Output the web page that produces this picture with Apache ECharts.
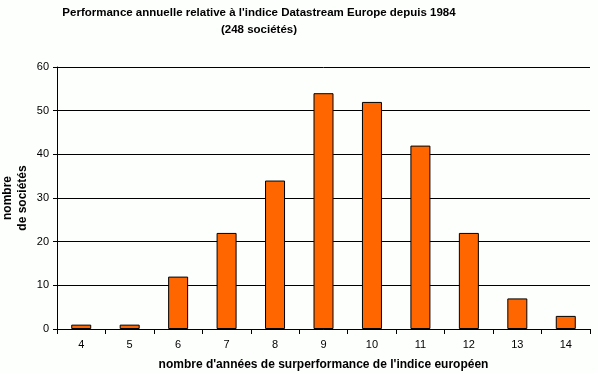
<!DOCTYPE html>
<html><head><meta charset="utf-8">
<script src="https://cdn.jsdelivr.net/npm/echarts@6/dist/echarts.min.js"></script>
<style>html,body{margin:0;padding:0;background:#fdfffd}#c{width:598px;height:373px}</style>
</head><body><div id="c"></div>
<script>
const categories = ['4','5','6','7','8','9','10','11','12','13','14'];
const values = [1,1,12,22,34,54,52,42,22,7,3];
const yTicks = [0,10,20,30,40,50,60];
const chart = echarts.init(document.getElementById('c'));
const F = 'Liberation Sans, Arial, sans-serif';
chart.setOption({
  backgroundColor: '#fdfffd',
  animation: false,
  title: {
    text: "Performance annuelle relative à l'indice Datastream Europe depuis 1984\n(248 sociétés)",
    left: 259, top: 4, padding: 0, textAlign: 'center',
    textStyle: {fontFamily: F, fontSize: 11.5, fontWeight: 'bold', color: '#000', lineHeight: 17}
  },
  grid: {left: 57, right: 8, top: 67, bottom: 44, containLabel: false, outerBoundsMode: 'none'},
  xAxis: {
    type: 'category', data: categories,
    name: "nombre d'années de surperformance de l'indice européen",
    nameLocation: 'middle', nameGap: 30, nameMoveOverlap: false,
    nameTextStyle: {fontFamily: F, fontSize: 12, fontWeight: 'bold', color: '#000'},
    axisLine: {lineStyle: {color: '#000', width: 1}},
    axisTick: {show: true, alignWithLabel: false, length: 5, lineStyle: {color: '#000'}},
    axisLabel: {fontFamily: F, fontSize: 11, color: '#000', margin: 10}
  },
  yAxis: {
    type: 'value', min: yTicks[0], max: yTicks[yTicks.length-1], interval: 10,
    name: 'nombre\nde sociétés', nameLocation: 'middle', nameGap: 27, nameRotate: 90, nameMoveOverlap: false,
    nameTextStyle: {fontFamily: F, fontSize: 12, fontWeight: 'bold', color: '#000', lineHeight: 15},
    axisLine: {show: true, lineStyle: {color: '#000'}},
    axisTick: {show: true, length: 4, lineStyle: {color: '#000'}},
    axisLabel: {fontFamily: F, fontSize: 11, color: '#000', margin: 8},
    splitLine: {show: true, lineStyle: {color: '#000', width: 1}}
  },
  series: [{
    type: 'bar', data: values, barWidth: 20,
    itemStyle: {color: '#ff6600', borderColor: '#000', borderWidth: 1}
  }]
});
</script></body></html>
